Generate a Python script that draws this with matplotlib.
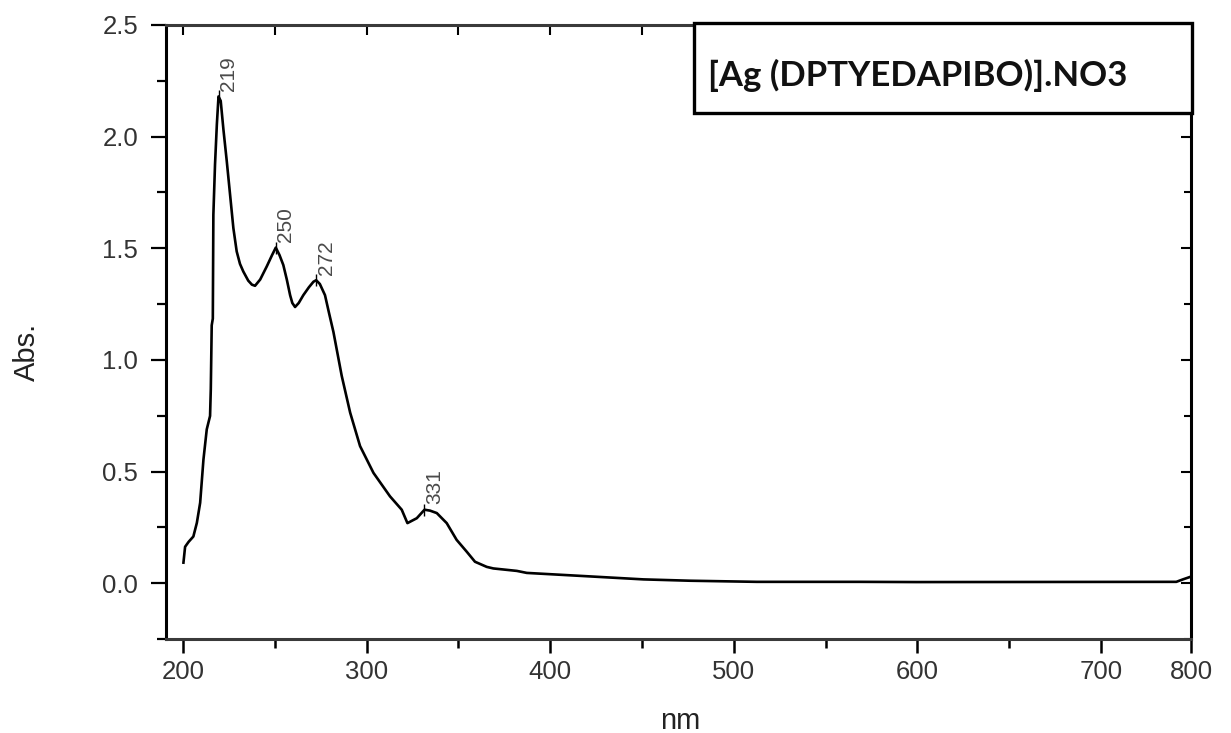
import matplotlib
matplotlib.use("Agg")
import matplotlib.pyplot as plt
from matplotlib.patches import Rectangle
import numpy as np

# ---- data ----
wavelength = [200.2, 201.1, 203.0, 205.6, 207.5, 209.3, 211.1, 212.9, 214.7, 215.1,
              215.6, 216.2, 216.5, 217.4, 218.4, 219.3, 220.5, 222.0, 223.8, 225.6,
              227.4, 229.2, 231.0, 232.8, 235.5, 237.5, 239.2, 242.0, 245.6, 248.5,
              250.5, 252.5, 254.6, 256.5, 258.3, 259.5, 261.0, 263.0, 265.5, 268.5,
              271.0, 272.5, 274.5, 277.3, 279.5, 281.9, 286.4, 291.0, 296.4, 303.7,
              312.7, 319.1, 322.2, 327.3, 331.5, 334.5, 338.2, 343.6, 349.0, 354.5,
              359.0, 365.4, 369.0, 381.8, 387.2, 418.0, 450.7, 476.1, 512.5, 568.7,
              599.6, 741.0, 744.6, 748.5]
absorbance = [0.092, 0.163, 0.185, 0.209, 0.270, 0.360, 0.554, 0.689, 0.749, 0.869,
              1.155, 1.185, 1.650, 1.875, 2.055, 2.180, 2.160, 2.030, 1.890, 1.740,
              1.590, 1.486, 1.430, 1.396, 1.355, 1.337, 1.332, 1.360, 1.419, 1.470,
              1.503, 1.470, 1.425, 1.360, 1.290, 1.255, 1.237, 1.255, 1.290, 1.325,
              1.350, 1.357, 1.340, 1.290, 1.210, 1.125, 0.929, 0.764, 0.614, 0.494,
              0.389, 0.329, 0.269, 0.291, 0.329, 0.325, 0.314, 0.269, 0.194, 0.141,
              0.096, 0.073, 0.066, 0.055, 0.046, 0.032, 0.017, 0.011, 0.006, 0.006,
              0.005, 0.006, 0.017, 0.028]
peak_wl = [219.3, 250.5, 272.5, 331.5]
peak_labels = ["219", "250", "272", "331"]
x_tick_labels = ["200", "300", "400", "500", "600", "700", "800"]
y_tick_labels = ["0.0", "0.5", "1.0", "1.5", "2.0", "2.5"]
title_text = "[Ag (DPTYEDAPIBO)].NO3"

W, H = 1231, 733
fig = plt.figure(figsize=(W / 100, H / 100), dpi=100)
ax = fig.add_axes([166 / W, 1 - 639 / H, (1191 - 166) / W, (639 - 25) / H])

ax.plot(wavelength, absorbance, color="black", lw=1.9, solid_joinstyle="round")

ax.set_xlim(190.7, 749)
ax.set_ylim(-0.25, 2.5)

xmaj = [200, 300, 400, 500, 600, 700, 749]
ax.set_xticks(xmaj)
ax.set_xticklabels(x_tick_labels)
ax.set_xticks([250, 350, 450, 550, 650], minor=True)
ax.set_yticks([0, 0.5, 1.0, 1.5, 2.0, 2.5])
ax.set_yticklabels(y_tick_labels)
ax.set_yticks([-0.25, 0.25, 0.75, 1.25, 1.75, 2.25], minor=True)

for lab in ax.get_xticklabels() + ax.get_yticklabels():
    lab.set_fontfamily("Liberation Sans")
    lab.set_fontsize(18.5)
    lab.set_color("#333333")

ax.tick_params(axis="x", which="major", direction="out", length=10, width=1.8,
               pad=5, bottom=True, top=False)
ax.tick_params(axis="x", which="minor", direction="out", length=6.5, width=1.8,
               bottom=True, top=False)
ax.tick_params(axis="y", which="major", direction="out", length=11, width=1.6,
               pad=9, left=True, right=False)
ax.tick_params(axis="y", which="minor", direction="out", length=6.5, width=1.6,
               left=True, right=False)

# mirrored inward ticks on top/right
axt = ax.secondary_xaxis("top")
axt.set_xticks([200, 300, 400, 500, 600, 700])
axt.set_xticks([250, 350, 450, 550, 650], minor=True)
axt.tick_params(which="both", direction="in", length=7, width=1.5, labeltop=False)
axt.spines["top"].set_visible(False)
axr = ax.secondary_yaxis("right")
axr.set_yticks([0, 0.5, 1.0, 1.5, 2.0, 2.5])
axr.set_yticks([-0.25, 0.25, 0.75, 1.25, 1.75, 2.25], minor=True)
axr.tick_params(which="major", direction="in", length=7, width=1.5, labelright=False)
axr.tick_params(which="minor", direction="in", length=5, width=1.5, labelright=False)
axr.spines["right"].set_visible(False)

for side in ["left", "right"]:
    ax.spines[side].set_linewidth(2.2)
    ax.spines[side].set_color("black")
for side in ["top", "bottom"]:
    ax.spines[side].set_linewidth(2.2)
    ax.spines[side].set_color("#3a3a3a")

# peak annotations
peak_y = np.interp(peak_wl, wavelength, absorbance)
for px_, py_, lab in zip(peak_wl, peak_y, peak_labels):
    ax.plot([px_], [py_], marker="|", ms=9, mew=1.0, color="black")
    ax.annotate(lab, xy=(px_, py_), xytext=(0.5, 4), textcoords="offset points",
                rotation=90, ha="left", va="bottom", fontsize=15,
                family="Liberation Sans", color="#4a4a4a")

# axis labels
fig.text(27 / W, 1 - 352 / H, "Abs.", rotation=90, ha="center", va="center",
         fontsize=21, family="Liberation Sans", color="#222222")
fig.text(680 / W, 1 - 729 / H, "nm", ha="center", va="baseline",
         fontsize=21, family="Liberation Sans", color="#222222")

# title box
fig.add_artist(Rectangle((694 / W, 1 - 113 / H), (1192 - 694) / W, (113 - 23) / H,
                         transform=fig.transFigure, facecolor="white",
                         edgecolor="black", lw=2.4, zorder=5))
fig.text(708 / W, 1 - 75 / H, title_text, ha="left", va="center", fontsize=25,
         family="Lato", fontweight="bold", color="#111111", zorder=6)

fig.savefig("out.png", dpi=100)
